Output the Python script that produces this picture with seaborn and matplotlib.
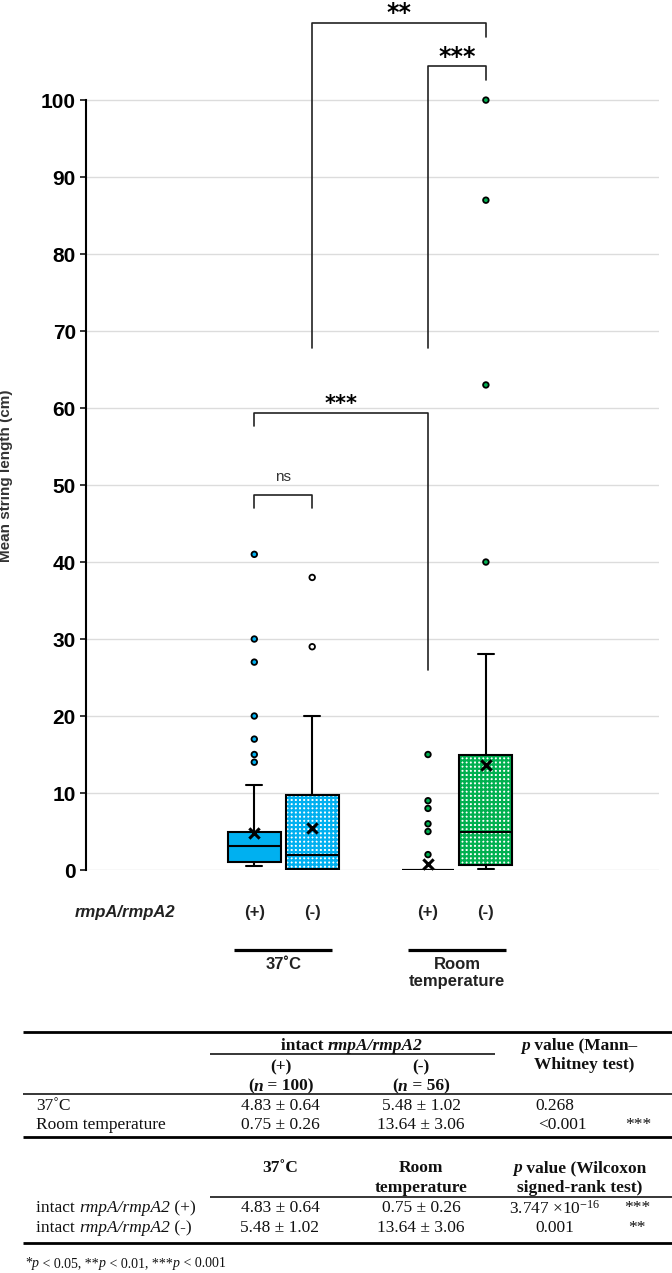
import numpy as np
import pandas as pd
import matplotlib
matplotlib.use("Agg")
import matplotlib.pyplot as plt
from matplotlib.patches import PathPatch
from matplotlib.transforms import blended_transform_factory
import seaborn as sns

# --- values (mean string length, cm) ---
groups = ["37 (+)", "37 (-)", "RT (+)", "RT (-)"]
gene_labels = ["(+)", "(-)", "(+)", "(-)"]
temp_labels = ["37˚C", "Room\ntemperature"]
q1 = [1.0, 0.1, 0.0, 0.7]
medians = [3.1, 2.0, 0.0, 5.0]
q3 = [4.9, 9.8, 0.0, 15.0]
whisker_lo = [0.5, 0.0, 0.0, 0.1]
whisker_hi = [11.0, 20.0, 0.0, 28.0]
means = [4.83, 5.48, 0.75, 13.64]
outliers = {
    "37 (+)": [14, 15, 17, 20, 27, 30, 41],
    "37 (-)": [29, 38],
    "RT (+)": [2, 5, 6, 8, 9, 15],
    "RT (-)": [40, 63, 87, 100],
}

# --- table values ---
mw_rows = ["37˚C", "Room temperature"]
mw_plus = ["4.83 ± 0.64", "0.75 ± 0.26"]
mw_minus = ["5.48 ± 1.02", "13.64 ± 3.06"]
mw_p = ["0.268", "<0.001"]
mw_sig = ["", "***"]
wx_rows = ["(+)", "(-)"]
wx_37 = ["4.83 ± 0.64", "5.48 ± 1.02"]
wx_rt = ["0.75 ± 0.26", "13.64 ± 3.06"]
wx_p = ["3.747 ×10$^{-16}$", "0.001"]
wx_sig = ["***", "**"]

BLUE = "#00B0F0"
GREEN = "#00B050"
SANS = ["Liberation Sans", "DejaVu Sans"]
SERIF = ["Liberation Serif", "DejaVu Serif"]

sns.set_theme(style="white")
plt.rcParams["font.family"] = SANS
plt.rcParams["hatch.linewidth"] = 1.6
plt.rcParams["mathtext.fontset"] = "custom"
plt.rcParams["mathtext.rm"] = "Liberation Serif"
plt.rcParams["mathtext.it"] = "Liberation Serif:italic"
plt.rcParams["mathtext.bf"] = "Liberation Serif:bold"

W, H = 672, 1273
fig = plt.figure(figsize=(W / 100, H / 100), dpi=100)
fig.patch.set_facecolor("white")

# plot area: y=0 at 870 px, 7.7 px per cm
ax = fig.add_axes([85.7 / W, 1 - 870 / H, (659 - 85.7) / W, 870 / H])
pos = np.array([0, 1, 3, 4])
x_of = dict(zip(groups, pos))

stats = [dict(med=m, q1=a, q3=b, whislo=lo, whishi=hi, fliers=[])
         for m, a, b, lo, hi in zip(medians, q1, q3, whisker_lo, whisker_hi)]
bp = ax.bxp(stats, positions=pos, widths=0.915, capwidths=0.27,
            patch_artist=True, showfliers=False, manage_ticks=False,
            boxprops=dict(linewidth=1.5, edgecolor="black"),
            whiskerprops=dict(linewidth=1.5, color="black"),
            capprops=dict(linewidth=1.5, color="black"),
            medianprops=dict(linewidth=1.5, color="black"))

box_colors = [BLUE, BLUE, GREEN, GREEN]
hatched = [False, True, False, True]
for patch, col, hat in zip(bp["boxes"], box_colors, hatched):
    if hat:
        patch.set_facecolor("white")
        patch.set_edgecolor(col)
        patch.set_hatch("++++")
        patch.set_linewidth(0)
        ax.add_patch(PathPatch(patch.get_path(), fill=False, ec="black",
                               lw=1.5, zorder=patch.get_zorder() + 0.1))
    else:
        patch.set_facecolor(col)

# outliers and means
out_df = pd.DataFrame([(g, v) for g in groups for v in outliers[g]],
                      columns=["group", "value"])
out_df["x"] = out_df["group"].map(x_of)
flier_faces = dict(zip(groups, [BLUE, "white", GREEN, GREEN]))
sns.scatterplot(data=out_df, x="x", y="value", hue="group", palette=flier_faces,
                s=16, edgecolor="black", linewidth=1.3, legend=False, ax=ax,
                zorder=4, clip_on=False)
mean_df = pd.DataFrame({"group": groups, "mean": means})
mean_df["x"] = mean_df["group"].map(x_of)
sns.scatterplot(data=mean_df, x="x", y="mean", marker="x", color="black",
                s=55, linewidth=2.2, ax=ax, zorder=5, clip_on=False)

ax.set_xlim(-2.912, 6.99)
ax.set_ylim(0, 113.0)
ax.set_yticks(range(0, 101, 10))
ax.set_yticklabels([str(v) for v in range(0, 101, 10)], fontsize=15,
                   fontweight="bold", color="black")
ax.tick_params(axis="y", direction="out", length=4, width=1.3, pad=3, left=True)
ax.yaxis.grid(True, color="#dcdcdc", lw=1)
ax.xaxis.grid(False)
ax.set_axisbelow(True)
sns.despine(ax=ax, top=True, right=True, bottom=True)
ax.spines["left"].set_bounds(0, 100)
ax.spines["left"].set_linewidth(1.5)
ax.spines["left"].set_color("black")

ax.set_xticks(pos)
ax.set_xticklabels(gene_labels, fontsize=12, fontweight="bold", color="#222222")
ax.tick_params(axis="x", length=0, pad=25)
ax.set_xlabel("")
ax.set_ylabel("Mean string length (cm)", fontsize=11, fontweight="bold",
              color="#333333")
ax.yaxis.set_label_coords(-0.127, 0.453)

trans = blended_transform_factory(ax.transData, ax.transAxes)
ax.text(-2.23, -0.0494, "rmpA/rmpA2", transform=trans, ha="center", va="center",
        fontsize=12, fontweight="bold", fontstyle="italic", color="#222222")
for centre, lab in zip([0.5, 3.5], temp_labels):
    ax.plot([centre - 0.85, centre + 0.85], [-0.0915, -0.0915], transform=trans,
            color="black", lw=2.3, clip_on=False, solid_capstyle="butt")
    ax.text(centre, -0.100, lab, transform=trans, ha="center", va="top",
            fontsize=12, fontweight="bold", color="#222222", linespacing=1.2)

# significance brackets: x1, x2, top, left leg end, right leg end, label, label centre, size
brackets = [
    (0, 1, 48.7, 47.0, 47.0, "ns", 51.1, 11),
    (0, 3, 59.4, 57.7, 26.0, "***", 61.3, 15),
    (3, 4, 104.4, 67.8, 102.6, "***", 106.5, 17),
    (1, 4, 110.0, 67.8, 108.2, "**", 112.2, 17),
]
for x1, x2, top, y_l, y_r, lab, ty, fs in brackets:
    ax.plot([x1, x1, x2, x2], [y_l, top, top, y_r], color="#222222", lw=1.2,
            clip_on=False, zorder=3)
    if lab == "ns":
        ax.annotate(lab, xy=((x1 + x2) / 2, ty), xytext=(0, -0.26 * fs),
                    textcoords="offset points", ha="center", va="baseline",
                    fontsize=fs, color="#333333", annotation_clip=False)
    else:
        ax.annotate(lab, xy=((x1 + x2) / 2, ty), xytext=(0, -0.58 * fs),
                    textcoords="offset points", ha="center", va="baseline",
                    fontsize=fs, fontweight="bold", color="black",
                    family=["DejaVu Sans"], annotation_clip=False)

# --- table below the chart, drawn in pixel coordinates ---
tax = fig.add_axes([0, 0, 1, 1])
tax.set_xlim(0, W)
tax.set_ylim(H, 0)
tax.axis("off")
renderer = fig.canvas.get_renderer()


def rich(x, y, parts, ha="center", size=12.5):
    """Draw text made of (text, weight, style) pieces on one baseline."""
    first = tax.text(x, y, parts[0][0], fontweight=parts[0][1],
                     fontstyle=parts[0][2], ha="left", va="center",
                     fontsize=size, family=SERIF, color="#111111")
    prev = first
    for t, w, s in parts[1:]:
        prev = tax.annotate(t, xy=(1, 0), xycoords=prev, ha="left", va="bottom",
                            fontweight=w, fontstyle=s, fontsize=size,
                            family=SERIF, color="#111111")
    if ha != "left":
        x0 = first.get_window_extent(renderer).x0
        x1 = prev.get_window_extent(renderer).x1
        width = x1 - x0
        shift = width / 2 if ha == "center" else width
        first.set_x(x - shift)
    return first


def cell(x, y, txt, ha="center", bold=False, size=12.5):
    tax.text(x, y, txt, ha=ha, va="center", fontsize=size, family=SERIF,
             fontweight="bold" if bold else "normal", color="#111111")


def hline(y, x0, x1, lw):
    tax.plot([x0, x1], [y, y], color="black", lw=lw, solid_capstyle="butt")


N, B, I = "normal", "bold", "italic"

hline(1032.3, 23, W, 2.0)
rich(352, 1045.7, [("intact ", B, N), ("rmpA/rmpA2", B, I)])
hline(1054.3, 210, 495, 1.1)
rich(579, 1045.7, [("p", B, I), (" value (Mann–", B, N)])
cell(584, 1065, "Whitney test)", bold=True)
cell(281, 1067.5, "(+)", bold=True)
cell(421, 1067.5, "(-)", bold=True)
rich(281, 1086.7, [("(", B, N), ("n", B, I), (" = 100)", B, N)])
rich(421, 1086.7, [("(", B, N), ("n", B, I), (" = 56)", B, N)])
hline(1094.3, 23, W, 1.1)
for yy, r, a, b, p, s in zip([1106, 1125], mw_rows, mw_plus, mw_minus, mw_p, mw_sig):
    cell(36, yy, r, ha="left")
    cell(280, yy, a)
    cell(421, yy, b)
    cell(555 if p[0] != "<" else 562, yy, p)
    cell(638.7, yy, s)
hline(1136.7, 23, W, 2.0)

cell(280, 1168.3, "37˚C", bold=True)
cell(421, 1168.3, "Room", bold=True)
cell(421, 1188.3, "temperature", bold=True)
rich(580, 1168.3, [("p", B, I), (" value (Wilcoxon", B, N)])
cell(580, 1188.3, "signed-rank test)", bold=True)
hline(1197.3, 210, W, 1.1)
for yy, r, a, b, p, s in zip([1208.3, 1228.3], wx_rows, wx_37, wx_rt, wx_p, wx_sig):
    rich(36, yy, [("intact ", N, N), ("rmpA/rmpA2", N, I), (" " + r, N, N)], ha="left")
    cell(280, yy, a)
    cell(421, yy, b)
    cell(555, yy, p)
    cell(637, yy, s)
hline(1243.3, 23, W, 2.0)

rich(25, 1263.3, [("*", N, N), ("p", N, I), (" < 0.05, **", N, N), ("p", N, I),
                  (" < 0.01, ***", N, N), ("p", N, I), (" < 0.001", N, N)],
     ha="left", size=10)

fig.savefig("out.png", dpi=100, facecolor="white")
